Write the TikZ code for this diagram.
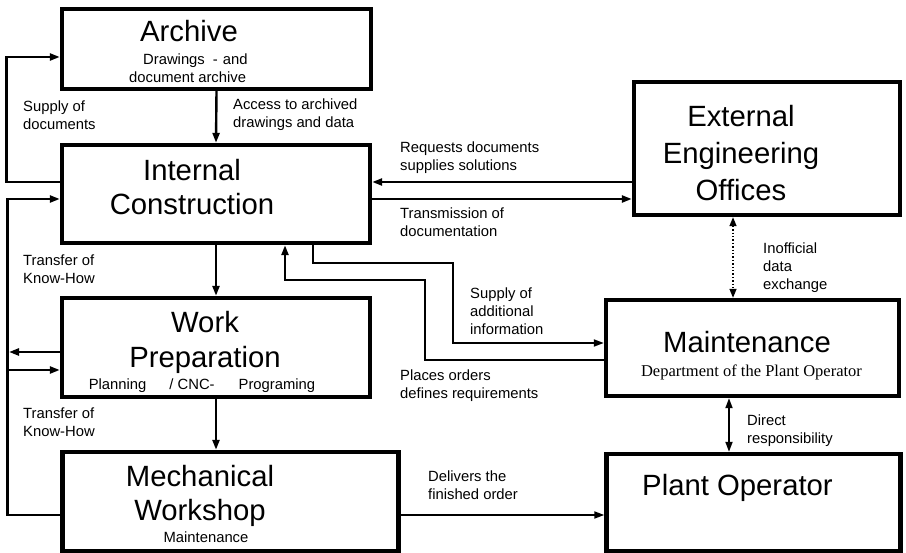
\documentclass[tikz,border=0pt]{standalone}
\usepackage{fontspec}
\setmainfont{Liberation Sans}
\newfontfamily\deptfont{Liberation Serif}
\usetikzlibrary{arrows.meta}
\begin{document}
\begin{tikzpicture}[x=1pt,y=-1pt,
  unit/.style={draw=black, line width=4.4pt, inner sep=0pt},
  heading/.style={font=\fontsize{29.3}{34.5}\selectfont, align=center, inner sep=0pt},
  detail/.style={font=\fontsize{14.8}{18}\selectfont, align=center, inner sep=0pt},
  note/.style={font=\fontsize{14.8}{18}\selectfont, align=left, anchor=west, inner sep=0pt},
  flow/.style={line width=2.4pt, -{Triangle[length=10pt,width=7pt]}},
  flowthin/.style={line width=1.8pt, -{Triangle[length=10pt,width=7pt]}},
  twoway/.style={line width=1.8pt, {Triangle[length=10pt,width=7pt]}-{Triangle[length=10pt,width=7pt]}},
  dotlink/.style={line width=1.4pt, dotted, {Triangle[length=9pt,width=7pt]}-{Triangle[length=9pt,width=7pt]}}
]
\fill[white] (0,0) rectangle (906,553);
\useasboundingbox (0,0) rectangle (906,553);

% organisational units
\node[unit, minimum width=309pt, minimum height=80pt] (arch) at (216.5,49) {};
\node[unit, minimum width=308pt, minimum height=98pt] (ic) at (216,194) {};
\node[unit, minimum width=308pt, minimum height=99pt] (wp) at (216,347.5) {};
\node[unit, minimum width=336pt, minimum height=99pt] (mw) at (230.5,501.5) {};
\node[unit, minimum width=266pt, minimum height=133pt] (eeo) at (767,148.5) {};
\node[unit, minimum width=293pt, minimum height=96pt] (mnt) at (752.5,348) {};
\node[unit, minimum width=294pt, minimum height=97pt] (po) at (753.5,502.5) {};

% unit titles and descriptions
\node[heading] (arch-t) at (189,31.5) {Archive};
\node[detail, align=left, anchor=west] (arch-d) at (129,68) {\hspace*{14pt}Drawings\hspace{8pt}-\hspace{5pt}and\\document archive};
\node[heading] (ic-t) at (192,187) {Internal\\Construction};
\node[heading] (wp-t) at (205,342.5) {Work\\Preparation};
\node[detail] (wp-d) at (202,386) {Planning\hspace{23pt}/ CNC-\hspace{24pt}Programing};
\node[heading] (mw-t) at (200,496) {Mechanical\\Workshop};
\node[detail] (mw-d) at (206,537) {Maintenance};
\node[heading, font=\fontsize{29.3}{37}\selectfont] (eeo-t) at (741,153.5) {External\\Engineering\\Offices};
\node[heading] (mnt-t) at (747,342) {Maintenance};
\node[inner sep=0pt, font=\deptfont\fontsize{16.5}{20}\selectfont] (mnt-d) at (751.5,372) {Department of the Plant Operator};
\node[heading] (po-t) at (737.5,488) {Plant Operator};

% helper coordinates for routed connectors
\coordinate (yA) at (0,182);
\coordinate (yB) at (0,199);
\coordinate (sdL) at (6.5,182);
\coordinate (sdT) at (6.5,57);
\coordinate (khB) at (7.5,515);
\coordinate (khT) at (7.5,199);
\coordinate (khO) at (9,352);
\coordinate (khI) at (7.5,370);
\coordinate (saA) at (313,263);
\coordinate (saB) at (453,343);
\coordinate (poA) at (425,360);
\coordinate (poB) at (285,280);
\coordinate (xD) at (733,0);
\coordinate (xR) at (729,0);
\coordinate (yD) at (0,515);

% connectors
\draw[flow] (ic.west |- yA) -- (sdL) -- (sdT) -- (arch.west |- sdT);
\draw[flow] (arch.south) -- (ic.north);
\draw[flow] (ic.south) -- (wp.north);
\draw[flow] (wp.south) -- (wp.south |- mw.north);
\draw[flow] (mw.west |- khB) -- (khB) -- (khT) -- (ic.west |- khT);
\draw[flow] (wp.west |- khO) -- (khO);
\draw[flow] (khI) -- (wp.west |- khI);
\draw[flow] (eeo.west |- yA) -- (ic.east |- yA);
\draw[flow] (ic.east |- yB) -- (eeo.west |- yB);
\draw[flowthin] (ic.south -| saA) -- (saA) -| (saB) -- (mnt.west |- saB);
\draw[flow] (mnt.west |- poA) -- (poA) |- (poB) -- (ic.south -| poB);
\draw[dotlink] (eeo.south -| xD) -- (mnt.north -| xD);
\draw[twoway] (mnt.south -| xR) -- (po.north -| xR);
\draw[flowthin] (mw.east |- yD) -- (po.west |- yD);

% connector labels
\node[note] (l-sd) at (23,115) {Supply of\\documents};
\node[note] (l-ac) at (233,115) {Access to archived\\drawings and data};
\node[note] (l-rq) at (400,158) {Requests documents\\supplies solutions};
\node[note] (l-tm) at (400,222) {Transmission of\\documentation};
\node[note] (l-kh1) at (23,269) {Transfer of\\Know-How};
\node[note] (l-sa) at (470,311) {Supply of\\additional\\information};
\node[note] (l-po) at (400,386) {Places orders\\defines requirements};
\node[note] (l-kh2) at (23,422) {Transfer of\\Know-How};
\node[note] (l-in) at (763,268) {Inofficial\\data\\exchange};
\node[note] (l-dr) at (747,431) {Direct\\responsibility};
\node[note] (l-dl) at (428,485) {Delivers the\\finished order};
\end{tikzpicture}
\end{document}
